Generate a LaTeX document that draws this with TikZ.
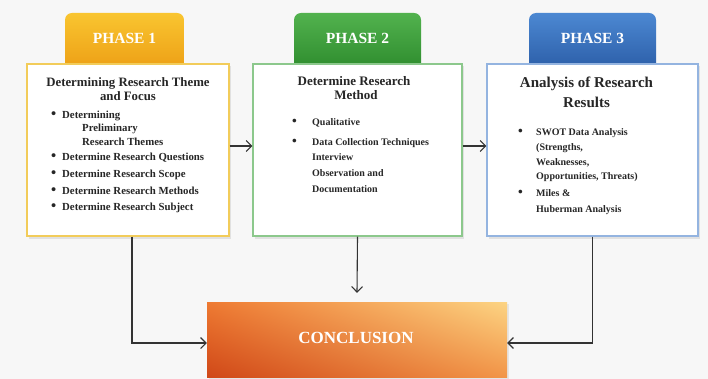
\documentclass[tikz,border=0pt]{standalone}
\usepackage{fontspec}
\setmainfont{Liberation Serif}
\usetikzlibrary{arrows.meta,shadows,shadings}
\definecolor{bgc}{HTML}{F7F7F7}
\definecolor{txt}{HTML}{262626}
\definecolor{linec}{HTML}{333333}
\definecolor{yT}{HTML}{F9C530}
\definecolor{yB}{HTML}{EC9D14}
\definecolor{gT}{HTML}{52B24E}
\definecolor{gB}{HTML}{2C8A2C}
\definecolor{bT}{HTML}{4C88D2}
\definecolor{bB}{HTML}{2A5CA6}
\definecolor{yBd}{HTML}{F2CC5A}
\definecolor{gBd}{HTML}{8CC88C}
\definecolor{bBd}{HTML}{94B4E0}
\definecolor{cUL}{HTML}{EE7A32}
\definecolor{cUR}{HTML}{FCD483}
\definecolor{cLL}{HTML}{D04818}
\definecolor{cLR}{HTML}{F29548}
\newcommand{\bul}[1]{\makebox[#1][l]{\raisebox{-0.3pt}{\scalebox{1.35}{•}}}}
\begin{document}
\begin{tikzpicture}[x=1pt,y=-1pt,
  tabbox/.style={minimum width=#1, minimum height=59pt, inner sep=0pt, rounded corners=7pt},
  mainbox/.style={draw=#1, line width=1.1pt, fill=white, minimum height=172pt, inner sep=0pt,
     drop shadow={opacity=0.18, shadow xshift=2pt, shadow yshift=-2.5pt}},
  phaselbl/.style={text=white, font=\fontsize{15.5}{18}\selectfont\bfseries, anchor=base, inner sep=0pt},
  ttl/.style={text=txt, anchor=base, inner sep=0pt, font=\fontsize{#1}{#1}\selectfont\bfseries},
  itm/.style={text=txt, anchor=base west, inner sep=0pt, font=\fontsize{#1}{#1}\selectfont\bfseries},
  conn/.style={draw=linec, line width=1.1pt, -{Straight Barb[length=5.5pt,width=11pt,line width=1.1pt]}}
]
\useasboundingbox[fill=bgc] (0,0) rectangle (708,379);

% tabs
\node[tabbox=119pt, top color=yT, bottom color=yB] (t1) at (124.5,42.5) {};
\node[tabbox=127pt, top color=gT, bottom color=gB] (t2) at (357.5,42.5) {};
\node[tabbox=127pt, top color=bT, bottom color=bB] (t3) at (592.5,42.5) {};
\node[phaselbl] (p1) at (124.5,43.5) {PHASE 1};
\node[phaselbl] (p2) at (357.5,43.5) {PHASE 2};
\node[phaselbl] (p3) at (592.5,43.5) {PHASE 3};

% main boxes
\node[mainbox=yBd, minimum width=202pt] (b1) at (128,150) {};
\node[mainbox=gBd, minimum width=209pt] (b2) at (357.5,150) {};
\node[mainbox=bBd, minimum width=211pt] (b3) at (592.5,150) {};

% conclusion
\node[minimum width=300pt, minimum height=75pt, inner sep=0pt,
  upper left=cUL, upper right=cUR, lower left=cLL, lower right=cLR,
  drop shadow={opacity=0.15, shadow xshift=2pt, shadow yshift=-2pt}] (conc) at (357,339.5) {};
\node[text=white, anchor=base, inner sep=0pt, font=\fontsize{17}{20}\selectfont\bfseries] (cl) at (356,343) {CONCLUSION};

% box 1 text
\node[ttl=12.8] (a1) at (128,87) {Determining Research Theme};
\node[ttl=12.8] (a2) at (128,101) {and Focus};
\node[itm=10.8] (a3) at (51,118.6) {\bul{11pt}Determining};
\node[itm=10.8] (a4) at (82,131.6) {Preliminary};
\node[itm=10.8] (a5) at (82,145.6) {Research Themes};
\node[itm=10.8] (a6) at (51,160.6) {\bul{11pt}Determine Research Questions};
\node[itm=10.8] (a7) at (51,177.6) {\bul{11pt}Determine Research Scope};
\node[itm=10.8] (a8) at (51,194.6) {\bul{11pt}Determine Research Methods};
\node[itm=10.8] (a9) at (51,210.6) {\bul{11pt}Determine Research Subject};

% box 2 text
\node[ttl=13] (c1) at (354,85.5) {Determine Research};
\node[ttl=13] (c2) at (356,99.5) {Method};
\node[itm=10] (c3) at (292,125.3) {\bul{20pt}Qualitative};
\node[itm=10] (c4) at (292,145.3) {\bul{20pt}Data Collection Techniques};
\node[itm=10] (c5) at (312,160.3) {Interview};
\node[itm=10] (c6) at (312,176.3) {Observation and};
\node[itm=10] (c7) at (312,192.3) {Documentation};

% box 3 text
\node[ttl=15] (d1) at (586.5,88) {Analysis of Research};
\node[ttl=15] (d2) at (586.5,108) {Results};
\node[itm=10] (d3) at (518,135.3) {\bul{18pt}SWOT Data Analysis};
\node[itm=10] (d4) at (536,150.3) {(Strengths,};
\node[itm=10] (d5) at (536,165.3) {Weaknesses,};
\node[itm=10] (d6) at (536,179.3) {Opportunities, Threats)};
\node[itm=10] (d7) at (518,196.3) {\bul{18pt}Miles \&};
\node[itm=10] (d8) at (536,212.3) {Huberman Analysis};

% connectors
\draw[conn] ([yshift=4pt]b1.east) -- ([yshift=4pt]b2.west);
\draw[conn] ([yshift=4pt]b2.east) -- ([yshift=4pt]b3.west);
\draw[conn] ([xshift=4pt]b1.south) |- ([yshift=-3.5pt]conc.west);
\draw[conn] (b2.south) -- ([yshift=9pt]conc.north);
\draw[conn] (b3.south) |- ([yshift=-3.5pt]conc.east);
\end{tikzpicture}
\end{document}
